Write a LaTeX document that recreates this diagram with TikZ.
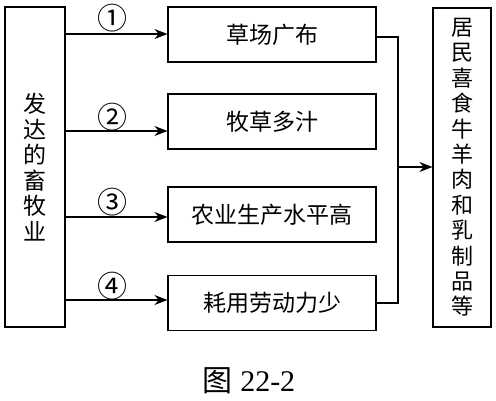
\documentclass[tikz,border=0pt]{standalone}
\usepackage{fontspec}
\setmainfont{Liberation Serif}
\newfontfamily\cjk{Noto Sans CJK SC}
\usetikzlibrary{arrows.meta}
\begin{document}
\begin{tikzpicture}[x=1pt,y=-1pt,
  box/.style={draw,line width=1.1pt,inner sep=0pt},
  arr/.style={line width=1.1pt,-{Stealth[length=13pt,width=10pt]}},
  lbl/.style={font=\cjk\fontsize{30}{30}\selectfont},
  txt/.style={font=\cjk\fontsize{23}{23}\selectfont}]
\useasboundingbox (0,0) rectangle (496,400);
\node[box,minimum width=60pt,minimum height=320pt] (L) at (35,167) {};
\node[txt,align=center,font=\cjk\fontsize{23}{25.5}\selectfont] at (L.center) {发\\达\\的\\畜\\牧\\业};
\node[box,minimum width=208pt,minimum height=55pt,txt] (b1) at (272,34.5) {草场广布};
\node[box,minimum width=208pt,minimum height=55pt,txt] (b2) at (272,121.5) {牧草多汁};
\node[box,minimum width=208pt,minimum height=55pt,txt] (b3) at (272,214.5) {农业生产水平高};
\node[box,minimum width=208pt,minimum height=55pt,txt] (b4) at (272,303) {耗用劳动力少};
\node[box,minimum width=58pt,minimum height=319pt] (R) at (462,167.5) {};
\node[align=center,font=\cjk\fontsize{22}{25.4}\selectfont] at (R.center) {居\\民\\喜\\食\\牛\\羊\\肉\\和\\乳\\制\\品\\等};
\coordinate (a1) at (65,34);
\coordinate (a2) at (65,131);
\coordinate (a3) at (65,217);
\coordinate (a4) at (65,300);
\draw[arr] (a1) -- (a1 -| b1.west);
\draw[arr] (a2) -- (a2 -| b2.west);
\draw[arr] (a3) -- (a3 -| b3.west);
\draw[arr] (a4) -- (a4 -| b4.west);
\node[lbl] (n1) at (112,18) {①};
\node[lbl] (n2) at (112,117) {②};
\node[lbl] (n3) at (112,202) {③};
\node[lbl] (n4) at (112,286) {④};
\coordinate (j1) at (398,37);
\coordinate (j4) at (398,303);
\coordinate (jm) at (398,167);
\draw[line width=1.1pt] (b1.east |- j1) -- (j1) -- (j4) -- (b4.east |- j4);
\draw[arr] (jm) -- (jm -| R.west);
\node[font=\fontsize{30}{30}\selectfont] (cap) at (249,381) {{\cjk 图}\ 22-2};
\end{tikzpicture}
\end{document}
